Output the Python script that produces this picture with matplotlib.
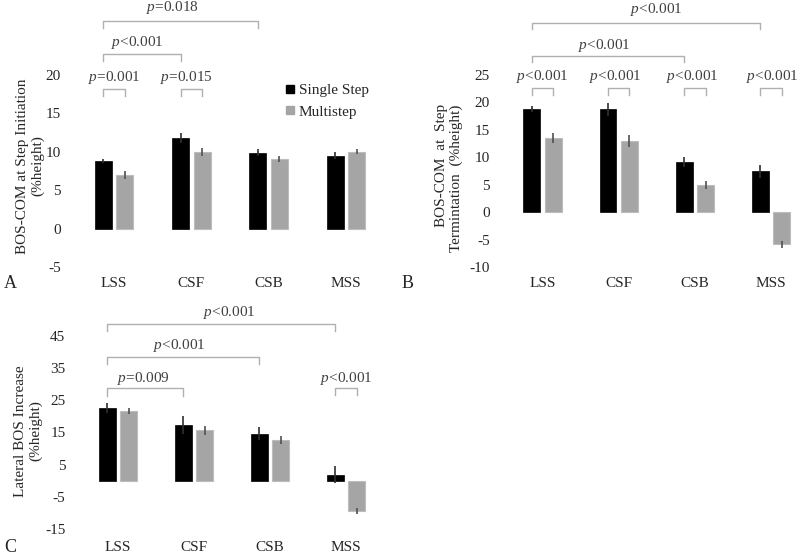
import matplotlib.pyplot as plt
import numpy as np
from matplotlib.lines import Line2D

plt.rcParams['font.family'] = 'Liberation Serif'
plt.rcParams['font.size'] = 11
plt.rcParams['axes.unicode_minus'] = False
plt.rcParams['mathtext.fontset'] = 'custom'
plt.rcParams['mathtext.rm'] = 'Liberation Serif'
plt.rcParams['mathtext.it'] = 'Liberation Serif:italic'

cats = ['LSS', 'CSF', 'CSB', 'MSS']

# A: BOS-COM at step initiation
A_single = [8.8, 11.8, 9.9, 9.5]
A_single_err = [0.3, 0.7, 0.4, 0.5]
A_multi = [7.0, 10.0, 9.1, 10.0]
A_multi_err = [0.5, 0.5, 0.4, 0.35]
A_yticks = [-5, 0, 5, 10, 15, 20]

# B: BOS-COM at step termination
B_single = [18.8, 18.7, 9.2, 7.4]
B_single_err = [0.6, 1.1, 0.9, 1.2]
B_multi = [13.5, 12.9, 4.9, -5.9]
B_multi_err = [0.9, 1.1, 0.7, 0.6]
B_yticks = [-10, -5, 0, 5, 10, 15, 20, 25]

# C: lateral BOS increase
C_single = [22.5, 17.3, 14.6, 1.9]
C_single_err = [1.6, 2.9, 2.1, 2.7]
C_multi = [21.7, 15.6, 12.7, -9.5]
C_multi_err = [1.0, 1.4, 1.2, 0.9]
C_yticks = [-15, -5, 5, 15, 25, 35, 45]

black = '#000000'
grey = '#a5a5a5'
txt_c = '#404040'
brk_c = '#b0b0b0'
off = 0.14
w = 0.22

fig = plt.figure(figsize=(8, 5.55), dpi=100)
axA = fig.add_axes([0.0845, 0.519, 0.406, 0.346])
axB = fig.add_axes([0.621, 0.519, 0.400, 0.346])
axC = fig.add_axes([0.0905, 0.047, 0.399, 0.348])


def bars(ax, s, se, m, me, ylim, yticks, xpad):
    x = np.arange(len(cats))
    ax.bar(x - off, s, w, color=black, edgecolor=black, lw=0.5)
    ax.bar(x + off, m, w, color=grey, edgecolor='#bdbdbd', lw=0.8)
    ax.errorbar(x - off, s, yerr=se, fmt='none', ecolor='#303030', elinewidth=1.2, capsize=0)
    ax.errorbar(x + off, m, yerr=me, fmt='none', ecolor='#505050', elinewidth=1.2, capsize=0)
    ax.set_xlim(-0.6, 3.6)
    ax.set_ylim(ylim)
    ax.set_yticks(yticks)
    ax.set_xticks(x)
    ax.set_xticklabels(cats)
    for sp in ax.spines.values():
        sp.set_visible(False)
    ax.tick_params(axis='y', length=0, pad=5, colors='#262626')
    ax.tick_params(axis='x', length=0, pad=xpad, colors='#262626')


def bracket(ax, x1, x2, y, h, text, tx, ty):
    ax.plot([x1, x1, x2, x2], [y - h, y, y, y - h], color=brk_c, lw=1.0, clip_on=False)
    ax.text(tx, ty, text, ha='center', va='center', color=txt_c, clip_on=False)


bars(axA, A_single, A_single_err, A_multi, A_multi_err, (-5, 20), A_yticks, 7)
bars(axB, B_single, B_single_err, B_multi, B_multi_err, (-10, 25), B_yticks, 7)
bars(axC, C_single, C_single_err, C_multi, C_multi_err, (-15, 45), C_yticks, 9)

# A brackets
bracket(axA, -off, off, 18.2, 0.9, r'$p$=0.001', 0.0, 19.7)
bracket(axA, 1 - off, 1 + off, 18.2, 0.9, r'$p$=0.015', 0.94, 19.7)
bracket(axA, -off, 1 - off, 22.7, 0.9, r'$p$<0.001', 0.30, 24.2)
bracket(axA, -off, 2 - off, 27.0, 0.9, r'$p$=0.018', 0.75, 28.8)

# B brackets
for i, tx in enumerate([0.0, 0.96, 1.97, 3.01]):
    bracket(axB, i - off, i + off, 22.6, 1.3, r'$p$<0.001', tx, 24.8)
bracket(axB, -off, 2 - off, 28.5, 1.1, r'$p$<0.001', 0.81, 30.3)
bracket(axB, -off, 3 - off, 34.5, 1.1, r'$p$<0.001', 1.49, 37.0)

# C brackets
bracket(axC, -off, 1 - off, 28.8, 2.6, r'$p$=0.009', 0.34, 31.6)
bracket(axC, 3 - off, 3 + off, 28.8, 2.2, r'$p$<0.001', 3.01, 31.6)
bracket(axC, -off, 2 - off, 38.5, 2.2, r'$p$<0.001', 0.80, 41.9)
bracket(axC, -off, 3 - off, 48.8, 2.2, r'$p$<0.001', 1.47, 52.1)

# legend in A
handles = [Line2D([], [], marker='s', ls='', color=black, markersize=6),
           Line2D([], [], marker='s', ls='', color=grey, markersize=6)]
axA.legend(handles, ['Single Step', 'Multistep'], loc='upper left',
           bbox_to_anchor=(0.67, 0.955), frameon=False, handlelength=0.6,
           handletextpad=0.3, labelspacing=0.5, borderpad=0, borderaxespad=0,
           labelcolor='#262626')

# y labels
fig.text(30 / 800, 1 - 166 / 555, 'BOS-COM at Step Initiation\n(%height)', rotation=90,
         ha='center', va='center', multialignment='center', color='#262626')
fig.text(449 / 800, 1 - 178 / 555, 'BOS-COM  at  Step\nTermintation  (%height)', rotation=90,
         ha='center', va='center', multialignment='right', color='#262626')
fig.text(28 / 800, 1 - 431 / 555, 'Lateral BOS Increase\n(%height)', rotation=90,
         ha='center', va='center', multialignment='center', color='#262626')

# panel letters
fig.text(4 / 800, 1 - 283 / 555, 'A', fontsize=13, ha='left', va='center', color='#262626')
fig.text(402 / 800, 1 - 283 / 555, 'B', fontsize=13, ha='left', va='center', color='#262626')
fig.text(4 / 800, 1 - 548 / 555, 'C', fontsize=13, ha='left', va='center', color='#262626')

plt.savefig('out.png', dpi=100)
